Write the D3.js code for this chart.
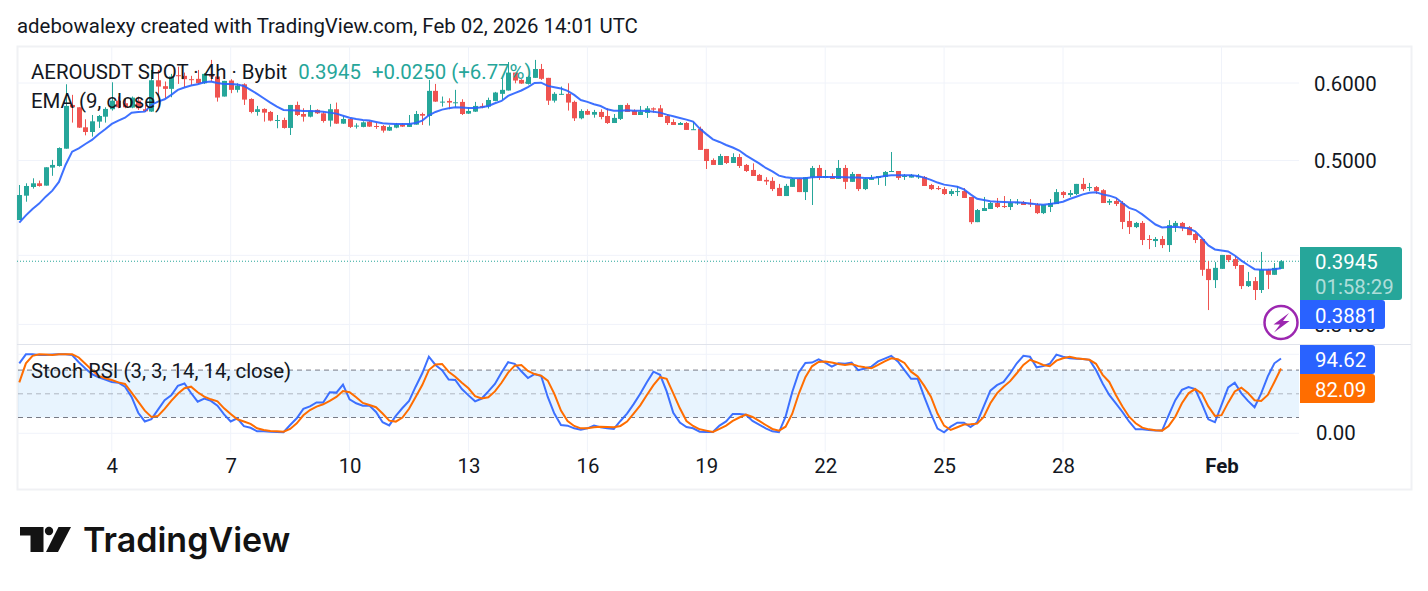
<!DOCTYPE html>
<html>
<head>
<meta charset="utf-8">
<script src="https://cdn.jsdelivr.net/npm/d3@7"></script>
<style>
  html, body { margin: 0; padding: 0; background: #fff; overflow: hidden; }
  text { font-family: Roboto, sans-serif; }
</style>
</head>
<body>
<div id="chart"></div>
<script>
// 4h candles, first one is Jan 1 16:00
const opens = [
  .4347,.4603,.4698,.4739,.4713,.4917,.4936,.5141,.5698,.5667,
  .5406,.5347,.5479,.5543,.5641,.5756,.5721,.5663,.5756,.5641,
  .5610,.6039,.5955,.5918,.6111,.6102,.6054,.6059,.5996,.6130,
  .6092,.5812,.6035,.5904,.5982,.5779,.5605,.5645,.5605,.5492,
  .5500,.5398,.5698,.5578,.5543,.5632,.5587,.5492,.5641,.5453,
  .5513,.5419,.5411,.5479,.5423,.5423,.5364,.5402,.5440,.5411,
  .5440,.5578,.5552,.5890,.5739,.5752,.5725,.5739,.5583,.5609,
  .5685,.5676,.5752,.5849,.5895,.6149,.6044,.5987,.6073,.6201,
  .6073,.5756,.5840,.5849,.5739,.5522,.5618,.5569,.5605,.5552,
  .5461,.5514,.5698,.5618,.5565,.5592,.5653,.5653,.5552,.5474,
  .5436,.5461,.5377,.5386,.5138,.5006,.4948,.5053,.4971,.5041,
  .4948,.4890,.4833,.4777,.4766,.4688,.4599,.4699,.4788,.4642,
  .4807,.4913,.4799,.4821,.4788,.4913,.4755,.4844,.4675,.4777,
  .4799,.4810,.4867,.4878,.4810,.4803,.4806,.4810,.4720,.4686,
  .4675,.4621,.4646,.4653,.4589,.4325,.4440,.4461,.4524,.4492,
  .4482,.4520,.4535,.4524,.4503,.4418,.4482,.4513,.4642,.4610,
  .4621,.4732,.4690,.4697,.4663,.4528,.4546,.4524,.4337,.4275,
  .4317,.4157,.4137,.4157,.4098,.4285,.4317,.4275,.4206,.4157,
  .3875,.3774,.3875,.4004,.3965,.3910,.3721,.3765,.3687,.3866,.3821,.3875
];
const highs = [
  .4720,.4739,.4795,.4769,.4921,.5007,.5157,.5982,.5835,.5667,
  .5509,.5565,.5565,.5667,.6010,.5812,.5788,.5812,.5812,.5698,
  .6187,.6187,.6021,.6130,.6235,.6149,.6102,.6187,.6140,.6335,
  .6102,.6030,.6054,.5996,.5996,.5788,.5685,.5654,.5618,.5565,
  .5530,.5698,.5743,.5654,.5698,.5641,.5609,.5712,.5730,.5552,
  .5522,.5457,.5483,.5487,.5466,.5436,.5432,.5462,.5457,.5565,
  .5618,.5596,.6044,.5987,.5812,.5788,.5904,.5775,.5667,.5739,
  .5721,.5797,.5876,.6068,.6304,.6149,.6054,.6102,.6335,.6275,
  .6073,.5872,.5950,.5996,.5756,.5641,.5641,.5632,.5640,.5653,
  .5578,.5698,.5721,.5640,.5684,.5684,.5666,.5698,.5578,.5509,
  .5474,.5474,.5474,.5415,.5138,.5025,.5078,.5053,.5086,.5078,
  .4959,.4967,.4844,.4807,.4807,.4732,.4732,.4799,.4799,.4807,
  .4936,.4948,.4890,.4851,.5006,.4948,.4867,.4844,.4799,.4833,
  .4821,.4878,.5101,.4878,.4844,.4844,.4844,.4821,.4732,.4709,
  .4697,.4675,.4709,.4686,.4589,.4461,.4589,.4535,.4578,.4599,
  .4567,.4567,.4546,.4567,.4524,.4503,.4567,.4675,.4653,.4664,
  .4732,.4799,.4743,.4709,.4674,.4567,.4577,.4546,.4439,.4327,
  .4337,.4195,.4176,.4186,.4345,.4337,.4327,.4285,.4216,.4157,
  .3947,.3937,.4004,.4004,.3994,.3910,.3847,.3801,.4032,.3875,.3928,.3956
];
const lows = [
  .4347,.4538,.4680,.4702,.4713,.4823,.4928,.5141,.5466,.5398,
  .5305,.5289,.5398,.5466,.5623,.5654,.5654,.5654,.5632,.5605,
  .5605,.5812,.5788,.5802,.5987,.5941,.5973,.5987,.5987,.6021,
  .5743,.5812,.5858,.5867,.5698,.5587,.5556,.5479,.5483,.5394,
  .5390,.5309,.5552,.5479,.5534,.5578,.5466,.5415,.5449,.5449,
  .5398,.5390,.5406,.5411,.5386,.5339,.5360,.5394,.5411,.5411,
  .5440,.5436,.5428,.5739,.5676,.5641,.5667,.5565,.5578,.5605,
  .5654,.5650,.5748,.5765,.5895,.5996,.5987,.5978,.6073,.6044,
  .5698,.5730,.5835,.5623,.5487,.5509,.5565,.5530,.5509,.5449,
  .5461,.5500,.5605,.5565,.5565,.5527,.5596,.5539,.5436,.5436,
  .5436,.5373,.5373,.5126,.4901,.4948,.4948,.4959,.4971,.4913,
  .4867,.4821,.4766,.4721,.4653,.4599,.4599,.4699,.4642,.4556,
  .4503,.4777,.4795,.4788,.4788,.4675,.4755,.4653,.4664,.4777,
  .4721,.4710,.4867,.4777,.4777,.4803,.4788,.4709,.4664,.4664,
  .4610,.4599,.4599,.4578,.4305,.4325,.4440,.4461,.4471,.4471,
  .4450,.4503,.4503,.4482,.4408,.4408,.4429,.4513,.4578,.4589,
  .4610,.4653,.4653,.4621,.4524,.4503,.4492,.4255,.4206,.4265,
  .4098,.4059,.4079,.4069,.4032,.4226,.4235,.4195,.4117,.3812,
  .3517,.3704,.3875,.3937,.3875,.3695,.3713,.3601,.3661,.3695,.3821,.3875
];
const closes = [
  .4610,.4709,.4739,.4709,.4921,.4948,.5149,.5685,.5667,.5402,
  .5347,.5483,.5552,.5645,.5756,.5667,.5667,.5797,.5654,.5614,
  .6039,.5950,.5918,.6092,.6102,.6054,.6044,.5996,.6130,.6092,
  .5798,.6030,.5904,.5964,.5770,.5605,.5641,.5596,.5492,.5500,
  .5398,.5698,.5565,.5543,.5623,.5587,.5487,.5641,.5453,.5513,
  .5411,.5428,.5470,.5415,.5415,.5364,.5411,.5445,.5415,.5449,
  .5578,.5556,.5890,.5743,.5743,.5730,.5734,.5578,.5618,.5685,
  .5667,.5765,.5867,.5904,.6149,.6035,.5992,.6087,.6201,.6059,
  .5756,.5849,.5849,.5730,.5522,.5618,.5569,.5605,.5539,.5461,
  .5527,.5698,.5605,.5565,.5610,.5653,.5636,.5539,.5461,.5436,
  .5461,.5373,.5382,.5126,.4994,.4948,.5053,.4971,.5041,.4936,
  .4878,.4821,.4766,.4759,.4675,.4599,.4710,.4788,.4642,.4807,
  .4913,.4799,.4821,.4788,.4913,.4755,.4844,.4675,.4788,.4799,
  .4821,.4867,.4878,.4799,.4821,.4833,.4821,.4709,.4675,.4675,
  .4621,.4653,.4653,.4578,.4325,.4450,.4471,.4524,.4482,.4485,
  .4524,.4531,.4503,.4510,.4418,.4503,.4524,.4642,.4610,.4632,
  .4732,.4675,.4697,.4653,.4524,.4546,.4514,.4327,.4275,.4317,
  .4147,.4147,.4157,.4098,.4295,.4317,.4265,.4195,.4147,.3866,
  .3774,.3884,.4004,.3956,.3901,.3721,.3765,.3687,.3866,.3821,.3884,.3945
];
const ema9 = [
  .4320,.4395,.4461,.4518,.4592,.4658,.4754,.4948,.5105,.5145,
  .5198,.5248,.5318,.5381,.5449,.5492,.5530,.5596,.5605,.5609,
  .5698,.5743,.5775,.5835,.5904,.5936,.5964,.5982,.6010,.6021,
  .6001,.5987,.5987,.5978,.5959,.5904,.5849,.5788,.5730,.5676,
  .5632,.5627,.5623,.5618,.5618,.5614,.5609,.5596,.5583,.5556,
  .5530,.5513,.5500,.5492,.5474,.5457,.5453,.5449,.5449,.5449,
  .5462,.5492,.5561,.5605,.5636,.5654,.5667,.5663,.5658,.5658,
  .5667,.5685,.5721,.5752,.5821,.5858,.5895,.5941,.6001,.6005,
  .5959,.5941,.5922,.5890,.5835,.5765,.5739,.5707,.5684,.5640,
  .5622,.5622,.5627,.5622,.5622,.5618,.5609,.5596,.5570,.5548,
  .5527,.5505,.5479,.5390,.5320,.5255,.5223,.5186,.5155,.5119,
  .5061,.5014,.4967,.4913,.4874,.4825,.4807,.4799,.4795,.4795,
  .4807,.4810,.4810,.4810,.4810,.4807,.4803,.4803,.4799,.4799,
  .4807,.4821,.4829,.4829,.4829,.4829,.4821,.4803,.4777,.4747,
  .4724,.4713,.4701,.4671,.4617,.4570,.4556,.4542,.4538,.4535,
  .4531,.4531,.4528,.4520,.4510,.4506,.4513,.4524,.4538,.4567,
  .4592,.4617,.4635,.4639,.4617,.4603,.4580,.4524,.4473,.4450,
  .4405,.4352,.4301,.4272,.4275,.4278,.4272,.4262,.4232,.4168,
  .4094,.4056,.4046,.4037,.3999,.3951,.3910,.3872,.3866,.3866,.3872,.3881
];
const stochK = [
  88.6,100,100,99,99,99.6,100,100,99,90,
  82,75,71,68,65,64,59,46,26,15,
  18,30,42,48,60,63,51,40,44,41,
  35,24,15,19,9,7,2.5,2.5,2,1.7,
  1.3,10.5,19,31,34,39,39,52,51.5,61.6,
  43,38,35,35,27,14,10,22,32,41,
  59,76,97,86.5,80,68,67.5,56,48,40.5,
  44,53,62.5,77,90,88,78.5,70,75,72.5,
  46,25,10.5,9.7,6.3,4.6,6.3,9.7,7.6,6.3,
  5.5,15.6,25,37,50,64.5,78,74,53,26,
  13.5,8,6.3,2,1.7,1.7,9.7,15,24.5,24.5,
  23.6,15.6,11,6.3,2.5,1.3,21,52,77,89,
  89.5,93.7,89.5,84.4,88.6,88,89.5,80,82,84.4,
  91,94.5,98,91,80,69,69,46,25,6,
  1.3,8.4,13.5,13.5,8,14,34,54,61,65,
  76,88.6,98,97,83.5,85,88,99.6,97,95,
  94.5,94,93,80,63,48.5,38,27,15,5,
  5,4.2,3.4,3.4,23,42,55,58.6,56,38,
  17.7,14,36,58,64,50.6,41,33,50.6,72,88.6,94.62
];
const stochD = [
  64.5,88.6,98,100,99.6,99,100,100,100,96,
  88,80,72.6,69.6,67.5,64.5,62.4,51.5,40,28.7,
  20.7,22,31,41,50,57,59,52,46.4,43,
  40.5,31.6,24.5,17.7,15,12,6.3,4.2,3,2.5,
  2,5.5,12.7,22.8,29.5,33.8,36.7,41,46,53.6,
  52,45.6,38.4,35.9,33,25,16,14.8,20,31,
  46,61,80,87,87.8,78,71.7,64,57,47,
  44,45.6,53,64,76.8,85.6,86.5,79,75,73,
  66.7,50,28.7,15.6,9.3,6.3,6.3,7.6,8.4,8,
  7.6,9.3,14.8,25,35.4,48.5,61,71,69,50.6,
  31.6,15.6,9.3,5,3.4,1.7,5.5,9.7,15.6,20,
  23.6,20.7,15.6,10.5,5.5,3.4,8.4,24.5,50,71,
  84.8,90.3,91,89.5,87.8,86.5,87.8,85,83.5,82.3,
  86.5,91,95,93.7,89,78,72,60,46.4,25,
  9.7,4.2,7.6,11,11.4,12.2,20.7,38,50.6,59,
  66,76,86.5,93,90,86.5,85,92,95,97,
  95,94,93,88,74,65,48.5,34,21,12.7,
  7.2,5,3.8,3.4,9.3,21,38,50.6,56,50.6,
  34,22,23,38.8,53,57.8,51,41.8,41,48.5,65,82.09
];
const dateTickIndex = [14, 32, 50, 68, 86, 104, 122, 140, 158, 182];
const dateTickLabels = ["4", "7", "10", "13", "16", "19", "22", "25", "28", "Feb"];
const priceGrid = [0.6, 0.5, 0.4, 0.34];
const priceLabels = [0.6, 0.5, 0.34]; // the 0.4000 label is fully behind the green tag
const stochGrid = [0, 100];
const stochBands = [80, 50, 20];

const lastPrice = 0.3945;
const lastEma = 0.3881;
const lastK = 94.62;
const lastD = 82.09;

const upColour = "#26a69a";
const downColour = "#ef5350";
const blue = "#2962ff";
const orange = "#ff6d00";
const textColour = "#131722";
const gridColour = "#f0f3fa";
const fontSize = 20.4;

const width = 1428, height = 591;
const paneRight = 1299, frameLeft = 17, frameRight = 1411, frameTop = 46, frameBottom = 489;
const priceBottom = 344, stochBottom = 452;

const svg = d3.select("#chart").append("svg")
  .attr("width", width).attr("height", height)
  .style("display", "block");

const x = d3.scaleLinear().domain([0, 191]).range([19.3, 1281]);
// chart uses a log price scale: 0.6000 sits at y 83 and 0.5000 at y 160.5
const y = d3.scaleLog().domain([0.6, 0.5]).range([83, 160.5]);
const yStoch = d3.scaleLinear().domain([0, 100]).range([433.3, 354.3]);

svg.append("text").attr("x", 17).attr("y", 33)
  .attr("font-size", fontSize).attr("fill", textColour)
  .text("adebowalexy created with TradingView.com, Feb 02, 2026 14:01 UTC");

// frame
svg.append("rect").attr("x", frameLeft + .5).attr("y", frameTop + .5)
  .attr("width", frameRight - frameLeft).attr("height", frameBottom - frameTop)
  .attr("fill", "none").attr("stroke", "#f0f1f4").attr("stroke-width", 2);

// grid
const grid = svg.append("g").attr("stroke", gridColour).attr("stroke-width", 1);
dateTickIndex.forEach(i => {
  grid.append("line").attr("x1", x(i)).attr("x2", x(i)).attr("y1", frameTop).attr("y2", stochBottom);
});
priceGrid.forEach(v => {
  grid.append("line").attr("x1", frameLeft).attr("x2", paneRight).attr("y1", y(v)).attr("y2", y(v));
});
stochGrid.forEach(v => {
  grid.append("line").attr("x1", frameLeft).attr("x2", paneRight).attr("y1", yStoch(v)).attr("y2", yStoch(v));
});

svg.append("line").attr("x1", frameLeft).attr("x2", frameRight)
  .attr("y1", priceBottom + .5).attr("y2", priceBottom + .5)
  .attr("stroke", "#e0e3eb");

// stoch band
svg.append("rect").attr("x", frameLeft + 1).attr("width", paneRight - frameLeft - 1)
  .attr("y", yStoch(80)).attr("height", yStoch(20) - yStoch(80))
  .attr("fill", "#2196f3").attr("fill-opacity", .1);

svg.selectAll(".band").data(stochBands).join("line")
  .attr("class", "band")
  .attr("x1", frameLeft + 1).attr("x2", paneRight)
  .attr("y1", d => yStoch(d)).attr("y2", d => yStoch(d))
  .attr("stroke", "#787b86")
  .attr("stroke-opacity", d => d === 50 ? .5 : 1)
  .attr("stroke-dasharray", "5 4");

// last price line
svg.append("line").attr("x1", frameLeft).attr("x2", paneRight)
  .attr("y1", y(lastPrice)).attr("y2", y(lastPrice))
  .attr("stroke", upColour).attr("stroke-dasharray", "1 2");

// candles
const candle = svg.selectAll(".candle").data(opens).join("g").attr("class", "candle");
const colourOf = i => closes[i] >= opens[i] ? upColour : downColour;
candle.append("line")
  .attr("x1", (d, i) => Math.round(x(i)) + .5).attr("x2", (d, i) => Math.round(x(i)) + .5)
  .attr("y1", (d, i) => y(highs[i])).attr("y2", (d, i) => y(lows[i]))
  .attr("stroke", (d, i) => colourOf(i));
candle.append("rect")
  .attr("x", (d, i) => Math.round(x(i)) - 2).attr("width", 5)
  .attr("y", (d, i) => y(Math.max(opens[i], closes[i])))
  .attr("height", (d, i) => Math.max(1, Math.abs(y(opens[i]) - y(closes[i]))))
  .attr("fill", (d, i) => colourOf(i));

// indicator lines
const priceLine = d3.line().x((d, i) => x(i)).y(d => y(d));
const stochLine = d3.line().x((d, i) => x(i)).y(d => yStoch(d));
svg.append("path").attr("d", priceLine(ema9)).attr("fill", "none").attr("stroke", blue).attr("stroke-width", 2).attr("stroke-opacity", .9);
svg.append("path").attr("d", stochLine(stochK)).attr("fill", "none").attr("stroke", blue).attr("stroke-width", 2).attr("stroke-opacity", .9);
svg.append("path").attr("d", stochLine(stochD)).attr("fill", "none").attr("stroke", orange).attr("stroke-width", 2);

// axes
const xAxis = svg.append("g").attr("transform", "translate(0,466)")
  .call(d3.axisBottom(x).tickValues(dateTickIndex).tickSize(0).tickPadding(0)
    .tickFormat((d, i) => dateTickLabels[i]));
xAxis.select(".domain").remove();
xAxis.selectAll("text").attr("y", 0).attr("dy", "0.35em")
  .attr("font-size", fontSize).attr("fill", textColour)
  .attr("font-weight", (d, i) => dateTickLabels[i] === "Feb" ? 700 : 400)
  .style("font-family", "Roboto");

const priceAxis = svg.append("g").attr("transform", "translate(1314,0.6)")
  .call(d3.axisRight(y).tickValues(priceLabels).tickSize(0).tickPadding(0).tickFormat(d3.format(".4f")));
priceAxis.select(".domain").remove();
priceAxis.selectAll("text").attr("x", 0).attr("font-size", fontSize).attr("fill", textColour).style("font-family", "Roboto");

const stochAxis = svg.append("g").attr("transform", "translate(1316,0)")
  .call(d3.axisRight(yStoch).tickValues([0]).tickSize(0).tickPadding(0).tickFormat(d3.format(".2f")));
stochAxis.select(".domain").remove();
stochAxis.selectAll("text").attr("x", 0).attr("font-size", fontSize).attr("fill", textColour).style("font-family", "Roboto");

// price tags, square on the left and rounded on the right
function tag(yTop, yBottom, right, colour) {
  const r = 3;
  svg.append("path").attr("fill", colour)
    .attr("d", `M1300,${yTop}H${right - r}Q${right},${yTop} ${right},${yTop + r}V${yBottom - r}Q${right},${yBottom} ${right - r},${yBottom}H1300Z`);
}
function tagText(value, cy, fill, opacity) {
  svg.append("text").attr("x", 1315).attr("y", cy).attr("dy", "0.35em")
    .attr("font-size", fontSize).attr("fill", fill).attr("fill-opacity", opacity).text(value);
}
tag(247, 300, 1402, upColour);
tagText(lastPrice.toFixed(4), 262, "#fff", 1);
tagText("01:58:29", 287, "#fff", .65);
tag(300, 329, 1385, blue);
tagText(lastEma.toFixed(4), 315.5, "#fff", 1);
tag(345, 374, 1375, blue);
tagText(lastK.toFixed(2), 360, "#fff", 1);
tag(374, 403, 1375, orange);
tagText(lastD.toFixed(2), 389.5, "#fff", 1);

// bolt badge
svg.append("circle").attr("cx", 1281).attr("cy", 322.5).attr("r", 16.5)
  .attr("fill", "#fff").attr("stroke", "#9c27b0").attr("stroke-width", 2.5);
svg.append("path").attr("fill", "#9c27b0")
  .attr("d", "M1289,313L1273.5,324.5H1280L1274,332.5L1289.5,321H1283Z");

// legend
const legendTop = svg.append("text").attr("x", 31).attr("y", 72).attr("dy", "0.35em").attr("font-size", fontSize).attr("fill", textColour);
legendTop.append("tspan").text("AEROUSDT SPOT · 4h · Bybit");
legendTop.append("tspan").attr("dx", 11).attr("fill", upColour).text("0.3945");
legendTop.append("tspan").attr("dx", 11).attr("fill", upColour).text("+0.0250 (+6.77%)");
svg.append("text").attr("x", 31).attr("y", 101).attr("dy", "0.35em").attr("font-size", fontSize).attr("fill", textColour).text("EMA (9, close)");
svg.append("text").attr("x", 31).attr("y", 371).attr("dy", "0.35em").attr("font-size", fontSize).attr("fill", textColour).text("Stoch RSI (3, 3, 14, 14, close)");

// logo
const logo = svg.append("g").attr("fill", "#131313");
logo.append("path").attr("d", "M20,527H43.5V552H30.5V535.5H20Z");
logo.append("circle").attr("cx", 49).attr("cy", 531).attr("r", 4.2);
logo.append("path").attr("d", "M58.5,527H71L58,552H46Z");
svg.append("text").attr("x", 83).attr("y", 552)
  .attr("font-size", 34).attr("font-weight", 600).attr("fill", "#131313")
  .style("font-family", "Inter").text("TradingView");
</script>
</body>
</html>
